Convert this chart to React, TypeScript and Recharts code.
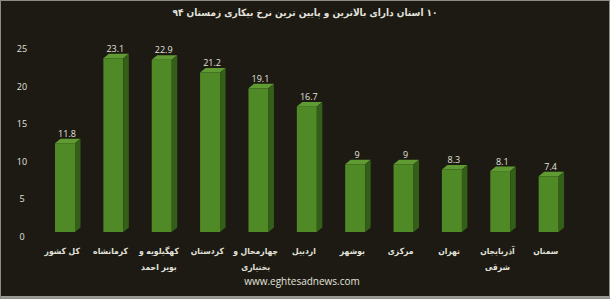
import { BarChart, Bar, XAxis, YAxis, LabelList } from "recharts";

const provinces = [
  "کل کشور",
  "کرمانشاه",
  "کهگیلویه و\nبویر احمد",
  "کردستان",
  "چهارمحال و\nبختیاری",
  "اردبیل",
  "بوشهر",
  "مرکزی",
  "تهران",
  "آذربایجان\nشرقی",
  "سمنان",
];
const rates = [11.8, 23.1, 22.9, 21.2, 19.1, 16.7, 9, 9, 8.3, 8.1, 7.4];
const yTicks = [0, 5, 10, 15, 20, 25];

const chartTitle = "۱۰ استان دارای بالاترین و پایین ترین نرخ بیکاری زمستان ۹۴";
const source = "www.eghtesadnews.com";

const data = provinces.map((name, i) => ({ name, value: rates[i] }));

const BG = "#1c1a13";
const TEXT = "#e2e2dc";
const DEPTH_X = 5.5;
const DEPTH_Y = 4.5;
const ARABIC_FONT = "'DejaVu Sans Condensed', 'DejaVu Sans', sans-serif";

interface ShapeProps {
  x?: number;
  y?: number;
  width?: number;
  height?: number;
}

const Bar3D = ({ x = 0, y = 0, width = 0, height = 0 }: ShapeProps) => {
  const r = x + width;
  const b = y + height;
  return (
    <g>
      <rect x={x} y={y} width={width} height={height} fill="#4f8a26" />
      <polygon
        points={`${x},${y} ${x + DEPTH_X},${y - DEPTH_Y} ${r + DEPTH_X},${y - DEPTH_Y} ${r},${y}`}
        fill="#5f9a32"
      />
      <polygon
        points={`${r},${y} ${r + DEPTH_X},${y - DEPTH_Y} ${r + DEPTH_X},${b - DEPTH_Y} ${r},${b}`}
        fill="#345f18"
      />
    </g>
  );
};

const ValueLabel = (props: any) => {
  const { x = 0, y = 0, width = 0, value } = props;
  return (
    <text
      x={x + width / 2 + 2}
      y={y - DEPTH_Y - 2}
      textAnchor="middle"
      fill={TEXT}
      fontSize={9}
      fontFamily="Open Sans, sans-serif"
    >
      {value}
    </text>
  );
};

const CategoryTick = (props: any) => {
  const { x, y, payload } = props;
  const lines = String(payload.value).split("\n");
  return (
    <text
      x={x - 3}
      y={y + 14}
      textAnchor="middle"
      fill={TEXT}
      fontSize={8.5}
      fontWeight="bold"
      fontFamily={ARABIC_FONT}
      direction="rtl"
    >
      {lines.map((line, i) => (
        <tspan key={i} x={x - 3} dy={i === 0 ? 0 : 16}>
          {line}
        </tspan>
      ))}
    </text>
  );
};

const ValueTick = (props: any) => {
  const { y, payload } = props;
  return (
    <text
      x={22}
      y={y + 8}
      textAnchor="middle"
      fill={TEXT}
      fontSize={9}
      fontFamily="Open Sans, sans-serif"
    >
      {payload.value}
    </text>
  );
};

const App = () => {
  return (
    <div
      style={{
        position: "absolute",
        left: 0,
        top: 0,
        width: 610,
        height: 299,
        background: BG,
        boxShadow: "inset 0 0 0 1px #8c8c86, inset 0 -3px 0 #9a9a94",
      }}
    >
      <BarChart
        width={610}
        height={299}
        data={data}
        margin={{ top: 44, right: 37, bottom: 0, left: 0 }}
      >
        <text
          x={305}
          y={16}
          textAnchor="middle"
          fill={TEXT}
          fontSize={10}
          fontWeight="bold"
          fontFamily={ARABIC_FONT}
          direction="rtl"
        >
          {chartTitle}
        </text>
        <XAxis
          dataKey="name"
          height={67}
          axisLine={false}
          tickLine={false}
          interval={0}
          tick={<CategoryTick />}
        />
        <YAxis
          width={41}
          domain={[0, 25]}
          ticks={yTicks}
          axisLine={false}
          tickLine={false}
          tick={<ValueTick />}
        />
        <Bar
          dataKey="value"
          barSize={20}
          shape={<Bar3D />}
          isAnimationActive={false}
        >
          <LabelList dataKey="value" content={<ValueLabel />} />
        </Bar>
        <text
          x={302}
          y={285}
          textAnchor="middle"
          fill={TEXT}
          fontSize={10}
          fontFamily="Open Sans, sans-serif"
        >
          {source}
        </text>
      </BarChart>
    </div>
  );
};

export default App;
